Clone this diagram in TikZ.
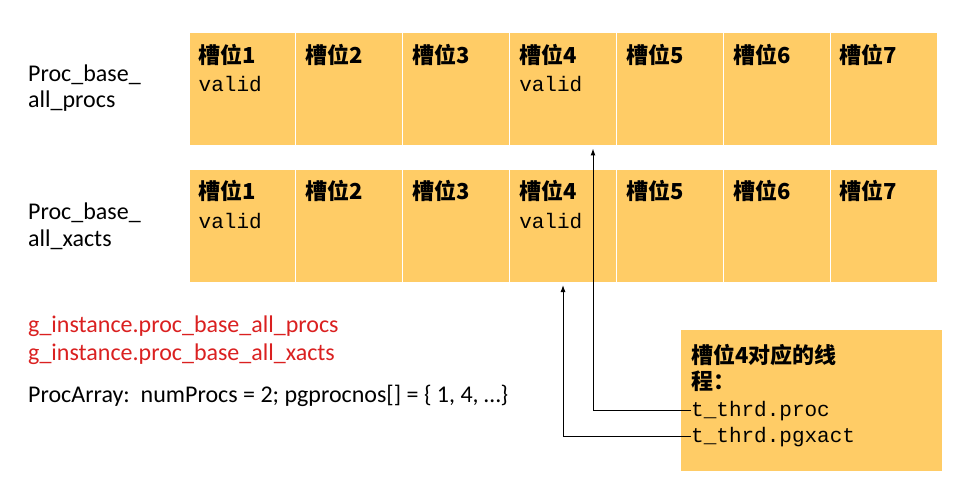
\documentclass[tikz,border=0pt]{standalone}
\usepackage{fontspec}
\setmainfont{Carlito}
\newfontfamily\cjkfont{Noto Sans CJK SC}
\newfontfamily\slotmono{Liberation Mono}
\usetikzlibrary{arrows.meta,calc,positioning}
\definecolor{slotfill}{RGB}{255,204,102}
\definecolor{varred}{RGB}{218,32,32}
\newcommand*{\cellW}{106.86}
\newcommand*{\cellH}{113}
\newcommand*{\rowA}{89.5}
\newcommand*{\rowB}{226}

\begin{document}
\begin{tikzpicture}[x=1pt,y=-1pt,
	cell/.style={draw=white,line width=1pt,fill=slotfill,minimum width=\cellW pt,minimum height=\cellH pt,inner sep=0pt},
	slot/.style={anchor=base west,inner sep=0pt,font=\cjkfont\bfseries\fontsize{22}{28}\selectfont},
	monotext/.style={anchor=base west,inner sep=0pt,font=\slotmono\fontsize{21}{28}\selectfont},
	lab/.style={anchor=base west,inner sep=0pt,font=\fontsize{24}{27}\selectfont},
	conn/.style={line width=1pt,-{Latex[length=7pt,width=5pt]},shorten >=2pt}]
	\useasboundingbox (0,0) rectangle (956,500);
	
	% two rows of slots
	\foreach \i in {1,...,7} {
		\node[cell] (p\i) at ({189+(\i-.5)*\cellW},\rowA) {};
		\node[slot] (pt\i) at ($(p\i.north west)+(10,31)$) {槽位\i};
		\node[cell] (x\i) at ({189+(\i-.5)*\cellW},\rowB) {};
		\node[slot] (xt\i) at ($(x\i.north west)+(10,31)$) {槽位\i};
	}
	\foreach \i in {1,4} {
		\node[monotext] (pv\i) at ($(pt\i.base west)+(0,28)$) {valid};
		\node[monotext] (xv\i) at ($(xt\i.base west)+(0,28)$) {valid};
	}
	
	\node[lab] (procsA) at (28,82) {Proc\_base\_};
	\node[lab] (procsB) at (28,108) {all\_procs};
	\node[lab] (xactsA) at (28,219) {Proc\_base\_};
	\node[lab] (xactsB) at (28,246) {all\_xacts};
	
	\node[lab,text=varred] (gprocs) at (28,332) {g\_instance.proc\_base\_all\_procs};
	\node[lab,text=varred] (gxacts) at (28,360) {g\_instance.proc\_base\_all\_xacts};
	\node[lab] (parr) at (28,402) {ProcArray:\ \ numProcs = 2; pgprocnos[] = \{ 1, 4, \dots\}};
	
	% thread box
	\node[fill=slotfill,anchor=north west,minimum width=261pt,minimum height=141pt,inner sep=0pt] (tbox) at (681,330) {};
	\node[slot] (t1) at (691,363) {槽位4对应的线};
	\node[slot] (t2) at (691,389) {程：};
	\node[monotext] (proc) at (691,416) {t\_thrd.proc};
	\node[monotext] (xact) at (691,442) {t\_thrd.pgxact};
	
	\draw[conn] (proc.west) -| ([xshift=30pt]p4.south);
	\draw[conn] (xact.west) -| (x4.south);
\end{tikzpicture}
\end{document}
